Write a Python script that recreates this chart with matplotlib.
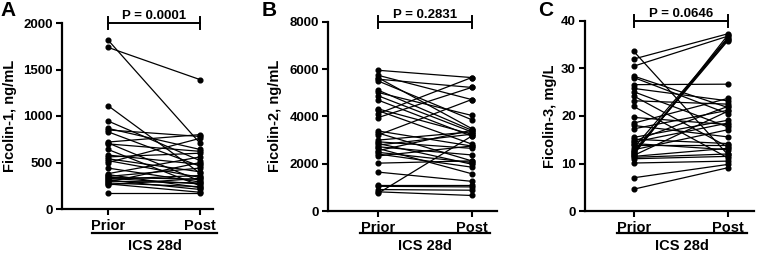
import matplotlib
matplotlib.use("Agg")
import matplotlib.pyplot as plt
from matplotlib.lines import Line2D

plt.rcParams['font.family'] = ['Liberation Sans', 'DejaVu Sans']
plt.rcParams['font.weight'] = 'bold'

W, H = 777, 257

groups = ['Prior', 'Post']
group_title = 'ICS 28d'

# panel A - Ficolin-1 (ng/mL)
fcn1_prior = [1817, 1738, 1111, 946, 867, 850, 830, 720, 710, 700, 640, 580, 560, 540, 520,
              500, 440, 380, 370, 350, 340, 330, 320, 310, 300, 290, 280, 270, 260, 172]
fcn1_post = [706, 1391, 384, 520, 640, 780, 460, 800, 300, 620, 250, 480, 600, 400, 340,
             760, 290, 560, 230, 440, 320, 270, 360, 210, 280, 500, 240, 180, 330, 172]

# panel B - Ficolin-2 (ng/mL)
fcn2_prior = [5958, 5748, 5648, 5581, 5510, 5120, 5020, 4882, 4700, 4326, 4255, 4116, 3950,
              3390, 3305, 3209, 3000, 2930, 2862, 2790, 2720, 2652, 2552, 2485, 2414, 2330,
              2025, 1648, 1117, 1046, 908, 812, 741]
fcn2_post = [5648, 4717, 3490, 5230, 3865, 3420, 4046, 3350, 3170, 3250, 2835, 5648, 5230,
             2750, 2122, 4717, 3350, 2652, 1982, 3250, 2373, 1578, 3420, 2052, 1857, 2750,
             2122, 1256, 1117, 1020, 880, 657, 3170]

# panel C - Ficolin-3 (mg/L)
fcn3_prior = [33.6, 32.0, 30.5, 28.4, 28.1, 26.6, 25.8, 25.1, 24.2, 23.2, 22.0, 19.7, 18.5,
              18.0, 17.3, 15.5, 15.1, 14.7, 14.2, 13.8, 14.5, 13.3, 12.9, 12.6, 12.4, 12.2,
              11.9, 11.7, 11.5, 11.3, 11.0, 10.1, 7.0, 4.6]
fcn3_post = [11.9, 37.3, 36.8, 21.8, 20.5, 26.7, 23.2, 17.7, 13.5, 22.5, 11.2, 18.2, 23.7,
             15.6, 21.2, 19.1, 14.2, 22.0, 12.9, 13.8, 18.5, 36.3, 17.1, 36.0, 35.8, 36.5,
             37.0, 21.0, 13.2, 12.0, 11.5, 10.5, 9.8, 9.1]

panels = [
    dict(letter='A', prior=fcn1_prior, post=fcn1_post, ylabel='Ficolin-1, ng/mL',
         ymax=2000, yticks=[0, 500, 1000, 1500, 2000], p='P = 0.0001',
         box=(62, 213, 23, 209), xlim=(-0.5, 1.14), letter_xy=(8, 11), ylab_x=10,
         under=(92, 217)),
    dict(letter='B', prior=fcn2_prior, post=fcn2_post, ylabel='Ficolin-2, ng/mL',
         ymax=8000, yticks=[0, 2000, 4000, 6000, 8000], p='P = 0.2831',
         box=(328, 497, 22, 211), xlim=(-0.53, 1.27), letter_xy=(269, 11), ylab_x=275,
         under=(360, 490)),
    dict(letter='C', prior=fcn3_prior, post=fcn3_post, ylabel='Ficolin-3, mg/L',
         ymax=40, yticks=[0, 10, 20, 30, 40], p='P = 0.0646',
         box=(585, 754, 21, 211), xlim=(-0.52, 1.28), letter_xy=(546, 11), ylab_x=550,
         under=(617, 747)),
]

fig = plt.figure(figsize=(W / 100, H / 100), dpi=100)

for pn in panels:
    x0, x1, ytop, ybot = pn['box']
    ax = fig.add_axes([x0 / W, 1 - ybot / H, (x1 - x0) / W, (ybot - ytop) / H])
    for a, b in zip(pn['prior'], pn['post']):
        ax.plot([0, 1], [a, b], '-', color='black', lw=0.9, marker='o', ms=3.4,
                clip_on=False, zorder=3)
    ax.set_xlim(*pn['xlim'])
    ax.set_ylim(0, pn['ymax'])
    ax.set_yticks(pn['yticks'])
    ax.set_xticks([0, 1])
    ax.set_xticklabels(groups, fontsize=10.5, fontweight='bold')
    for lab in ax.get_yticklabels():
        lab.set_fontsize(9.5)
        lab.set_fontweight('bold')
    ax.tick_params(axis='both', direction='out', length=4.5, width=1.5, pad=2)
    ax.tick_params(axis='x', pad=3)
    for s in ['top', 'right']:
        ax.spines[s].set_visible(False)
    for s in ['left', 'bottom']:
        ax.spines[s].set_linewidth(1.6)

    # significance bracket
    ym = pn['ymax']
    d = ym * 0.03
    ax.plot([0, 1], [ym, ym], color='black', lw=1.4, clip_on=False)
    for xe in [0, 1]:
        ax.plot([xe, xe], [ym - d, ym + d], color='black', lw=1.4, clip_on=False)
    ax.text(0.5, ym * 1.022, pn['p'], ha='center', va='baseline', fontsize=9.5,
            fontweight='bold')

    # group underline and title
    u0, u1 = pn['under']
    fig.add_artist(Line2D([u0 / W, u1 / W], [1 - 233 / H, 1 - 233 / H], color='black', lw=1.6))
    fig.text((u0 + u1) / 2 / W, 1 - 246 / H, group_title, ha='center', va='center',
             fontsize=10.5, fontweight='bold')

    fig.text(pn['letter_xy'][0] / W, 1 - pn['letter_xy'][1] / H, pn['letter'],
             ha='center', va='center', fontsize=15, fontweight='bold')
    fig.text(pn['ylab_x'] / W, 1 - 116 / H, pn['ylabel'], rotation=90, ha='center',
             va='center', fontsize=10.5, fontweight='bold')

fig.savefig('out.png', dpi=100)
